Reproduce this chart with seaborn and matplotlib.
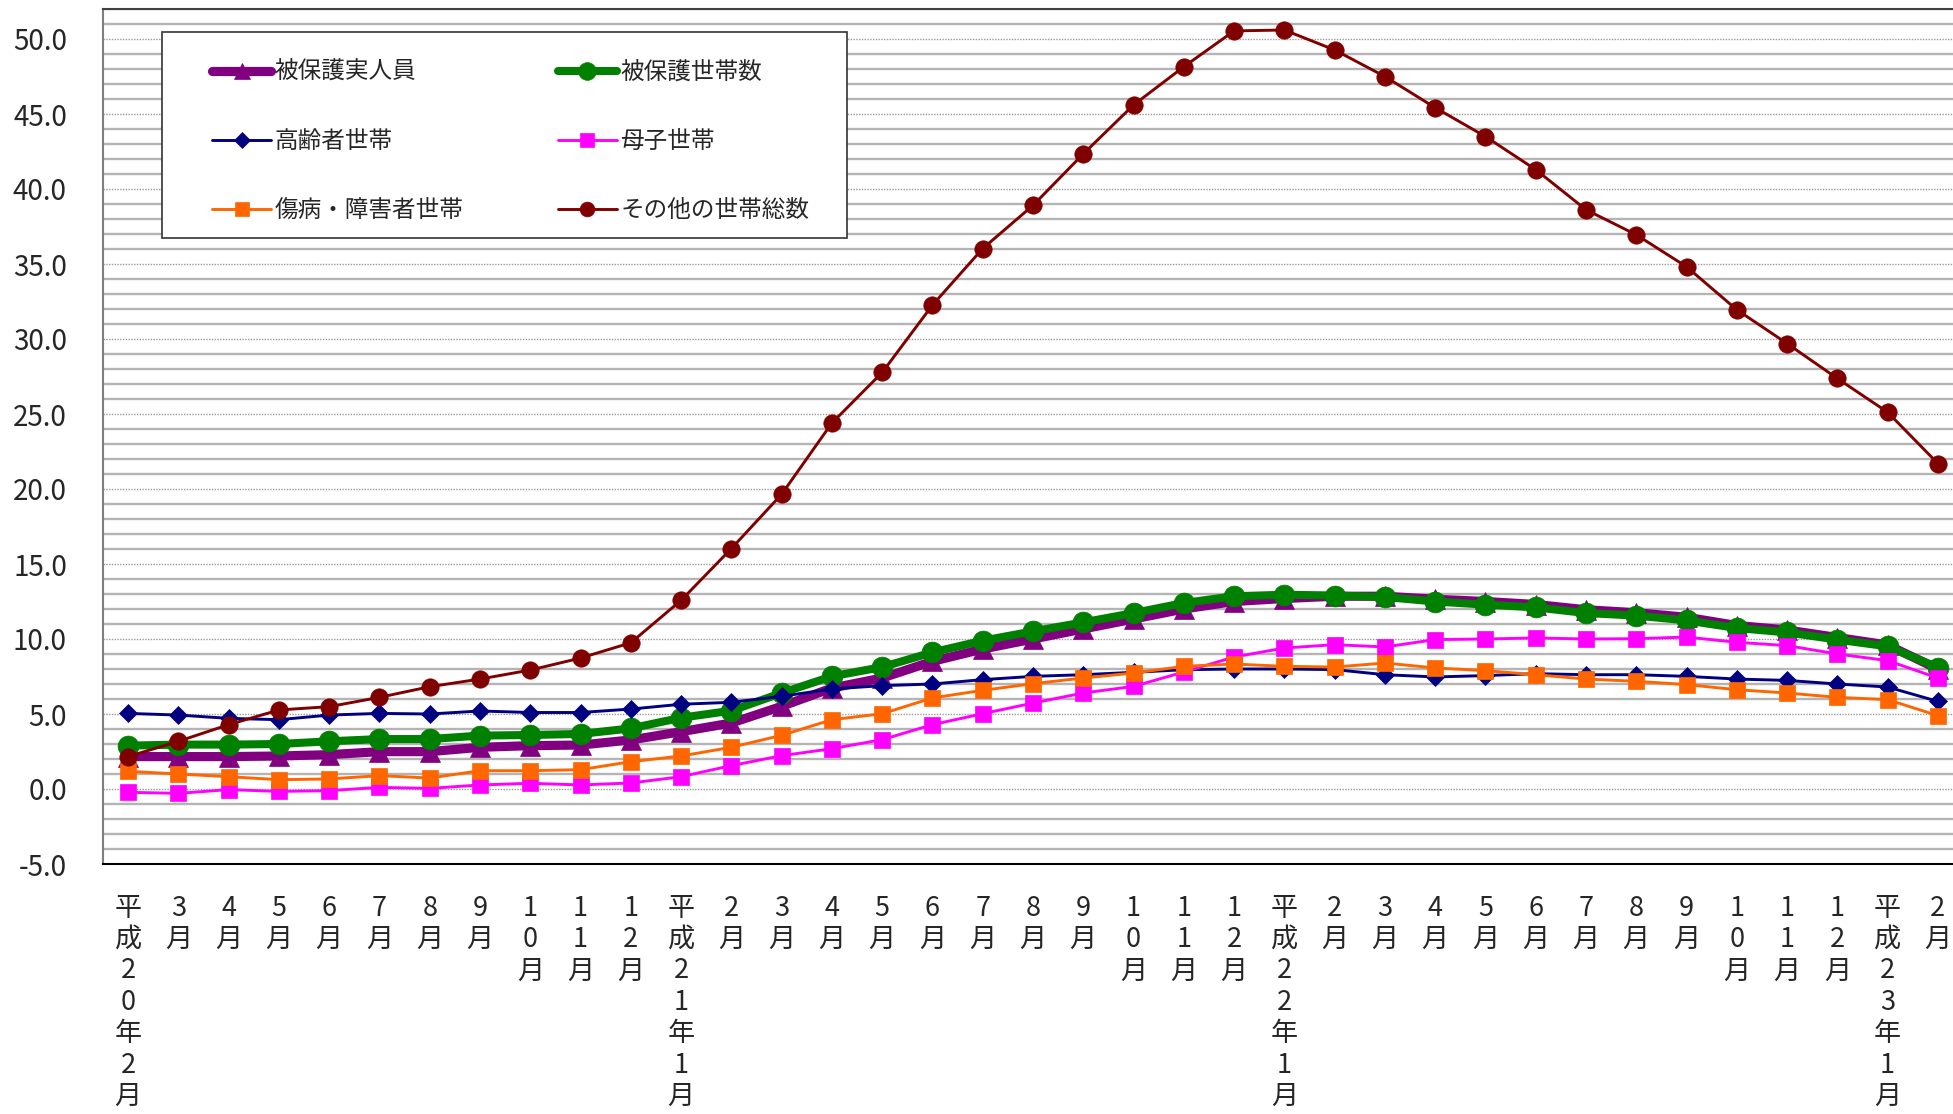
import numpy as np
import seaborn as sns
import matplotlib.pyplot as plt
from matplotlib.ticker import MultipleLocator, FixedLocator, FormatStrFormatter
from matplotlib.patches import Rectangle

# x categories (平成20年2月 - 平成23年2月)
months = ["平成20年2月", "3月", "4月", "5月", "6月", "7月", "8月", "9月", "10月", "11月", "12月",
          "平成21年1月", "2月", "3月", "4月", "5月", "6月", "7月", "8月", "9月", "10月", "11月", "12月",
          "平成22年1月", "2月", "3月", "4月", "5月", "6月", "7月", "8月", "9月", "10月", "11月", "12月",
          "平成23年1月", "2月"]

jinin = [2.16, 2.16, 2.16, 2.2, 2.29, 2.49, 2.49, 2.78, 2.89, 2.93, 3.27, 3.82,
         4.4, 5.51, 6.73, 7.4, 8.51, 9.33, 10.0, 10.67, 11.33, 12.0, 12.5, 12.7,
         12.85, 12.85, 12.65, 12.5, 12.3, 11.95, 11.75, 11.45, 10.9, 10.6, 10.1, 9.6, 8.0]
setai = [2.89, 2.96, 2.96, 3.0, 3.18, 3.33, 3.33, 3.56, 3.6, 3.67, 4.04, 4.75,
         5.22, 6.4, 7.51, 8.13, 9.11, 9.89, 10.51, 11.11, 11.73, 12.4, 12.85, 12.95,
         12.9, 12.8, 12.5, 12.29, 12.11, 11.73, 11.56, 11.24, 10.73, 10.44, 9.96, 9.51, 8.1]
koreisha = [5.04, 4.93, 4.71, 4.62, 4.93, 5.04, 5.0, 5.2, 5.1, 5.1, 5.33, 5.65,
            5.78, 6.18, 6.67, 6.89, 7.0, 7.29, 7.51, 7.62, 7.78, 7.95, 8.0, 8.0,
            7.96, 7.62, 7.47, 7.56, 7.69, 7.62, 7.62, 7.51, 7.33, 7.24, 7.0, 6.8, 5.84]
boshi = [-0.22, -0.29, -0.04, -0.16, -0.11, 0.11, 0.04, 0.27, 0.38, 0.27, 0.4, 0.82,
         1.56, 2.22, 2.69, 3.29, 4.29, 5.02, 5.73, 6.4, 6.84, 7.8, 8.8, 9.4,
         9.62, 9.47, 9.96, 10.0, 10.07, 10.0, 10.02, 10.13, 9.78, 9.56, 9.0, 8.56, 7.4]
shobyo = [1.18, 1.0, 0.82, 0.62, 0.67, 0.89, 0.73, 1.22, 1.22, 1.29, 1.82, 2.2,
          2.78, 3.58, 4.62, 5.02, 6.07, 6.58, 7.02, 7.4, 7.73, 8.18, 8.33, 8.18,
          8.13, 8.4, 8.07, 7.89, 7.62, 7.33, 7.18, 6.96, 6.62, 6.4, 6.11, 5.96, 4.89]
sonota = [2.16, 3.18, 4.29, 5.27, 5.49, 6.11, 6.82, 7.33, 7.93, 8.73, 9.75,
          12.58, 16.03, 19.65, 24.4, 27.77, 32.26, 36.03, 38.91, 42.34, 45.6, 48.15, 50.54,
          50.6, 49.27, 47.5, 45.42, 43.5, 41.29, 38.62, 36.95, 34.82, 31.95, 29.7, 27.37, 25.12, 21.7]

series = [
    ("被保護実人員", jinin, "#800080", "^", 14, 6.6),
    ("被保護世帯数", setai, "#008000", "o", 15, 5.8),
    ("高齢者世帯", koreisha, "#000080", "D", 9.5, 2.1),
    ("母子世帯", boshi, "#FF00FF", "s", 12, 2.1),
    ("傷病・障害者世帯", shobyo, "#FF6600", "s", 12, 2.1),
    ("その他の世帯総数", sonota, "#800000", "o", 12.5, 2.1),
]

sns.set_style("white")
plt.rcParams['font.family'] = ['Noto Sans CJK JP', 'DejaVu Sans']
plt.rcParams['axes.unicode_minus'] = False

fig = plt.figure(figsize=(19.53, 11.14), dpi=100)
ax = fig.add_axes([103 / 1953, 1 - 864 / 1114, 1860 / 1953, 855 / 1114])

xpos = np.arange(len(months))
for i, (name, vals, c, m, ms, lw) in enumerate(series):
    sns.lineplot(x=xpos, y=vals, ax=ax, color=c, marker=m, markersize=ms,
                 markeredgecolor=c, markeredgewidth=0.5, linewidth=lw,
                 label=name, zorder=3 + i)

ax.set_xlim(-0.5, 36.5)
ax.set_ylim(-5, 52)
ax.set_xlabel("")
ax.set_ylabel("")

# y axis
ax.yaxis.set_major_locator(MultipleLocator(5))
ax.yaxis.set_minor_locator(MultipleLocator(1))
ax.yaxis.set_major_formatter(FormatStrFormatter("%.1f"))
ax.grid(False)
ax.grid(which='minor', axis='y', color='#b4b4b4', lw=1.7, ls='-', zorder=0)
ax.grid(which='major', axis='y', color='#9a9a9a', lw=1.0, ls=(0, (1, 1)), zorder=0)
ax.set_axisbelow(True)
ax.tick_params(axis='y', which='major', direction='in', length=7, width=1,
               color='#808080', pad=26, labelsize=20)
ax.tick_params(axis='y', which='minor', length=0)

# x axis
ax.set_xticks(xpos)
ax.set_xticklabels(["\n".join(lab) for lab in months], fontsize=19.5,
                   linespacing=1.21, va='top')
ax.xaxis.set_minor_locator(FixedLocator(np.arange(-0.5, 37, 1)))
ax.tick_params(axis='x', which='major', length=0, pad=22)
ax.tick_params(axis='x', which='minor', direction='in', length=6.5, width=1, color='black')

for s in ax.spines.values():
    s.set_visible(True)
ax.spines['left'].set_color('#808080')
ax.spines['left'].set_linewidth(1.5)
ax.spines['bottom'].set_color('black')
ax.spines['bottom'].set_linewidth(1.5)
ax.spines['top'].set_color('#404040')
ax.spines['top'].set_linewidth(1.5)
ax.spines['right'].set_visible(False)

# legend box and entries
ax.add_patch(Rectangle((59 / 1860, 1 - 229 / 855), 685 / 1860, 206 / 855,
                       transform=ax.transAxes, facecolor='white', edgecolor='#333333',
                       lw=1.2, zorder=20))
h, l = ax.get_legend_handles_labels()
order = [0, 2, 4, 1, 3, 5]
leg = ax.legend([h[k] for k in order], [l[k] for k in order], ncol=2,
                loc='upper left', bbox_to_anchor=(109 / 1860, 1 - 52 / 855),
                frameon=False, fontsize=17, handlelength=2.5, handletextpad=0.15,
                columnspacing=4.0, labelspacing=1.95, borderpad=0, borderaxespad=0,
                markerscale=0.85)
leg.set_zorder(21)

fig.savefig("out.png", dpi=100)
